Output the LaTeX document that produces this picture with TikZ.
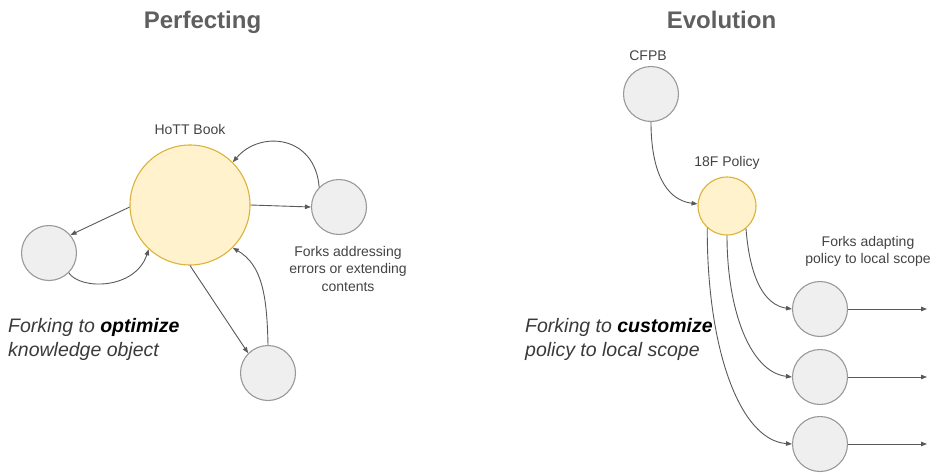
\documentclass[tikz,border=0pt]{standalone}
\usepackage{fontspec}
\setmainfont{Liberation Sans}
\usetikzlibrary{arrows.meta}

\definecolor{titlegray}{HTML}{5F5F5F}
\definecolor{labelgray}{HTML}{434343}
\definecolor{nodeedge}{HTML}{999999}
\definecolor{nodefill}{HTML}{EFEFEF}
\definecolor{hubedge}{HTML}{DBB33A}
\definecolor{hubfill}{HTML}{FFF2CC}
\definecolor{wire}{HTML}{595959}
\definecolor{notetext}{HTML}{3A3A3A}

\tikzset{
  fork/.style={circle, draw=nodeedge, fill=nodefill, line width=1.1pt,
    minimum size=55pt, inner sep=0pt},
  hub/.style={circle, draw=hubedge, fill=hubfill, line width=1.1pt, inner sep=0pt},
  wirearrow/.style={draw=wire, line width=0.9pt,
    -{Triangle[length=6pt,width=4.5pt]}},
  heading/.style={font=\bfseries\fontsize{24}{28}\selectfont, text=titlegray, inner sep=0pt},
  caption/.style={font=\fontsize{14}{17}\selectfont, text=labelgray, inner sep=0pt},
  remark/.style={font=\fontsize{14}{17.6}\selectfont, text=labelgray, inner sep=0pt,
    align=center},
  summary/.style={font=\itshape\fontsize{19.5}{23.5}\selectfont, text=notetext,
    inner sep=0pt, align=left},
}

\begin{document}
\begin{tikzpicture}[x=1pt, y=-1pt]
\useasboundingbox (0,0) rectangle (937,474);

% ---------------- Perfecting ----------------
\node[heading, anchor=base] (t1) at (202.5,28) {Perfecting};

\node[hub, minimum size=120pt] (book) at (190,205) {};
\node[caption, anchor=base] (bookl) at (190,134) {HoTT Book};

\node[fork] (fa) at (339,207) {};
\node[fork] (fb) at (49,253) {};
\node[fork] (fc) at (268,373) {};

\node[remark, anchor=north] (fal) at (348,246) {Forks addressing\\errors or extending\\contents};

\node[summary, anchor=base west] (s1) at (8,356)
  {Forking to {\color{black}\textbf{optimize}}\\knowledge object};

\draw[wirearrow] (book.east) -- (fa.west);
\draw[wirearrow] (fa.135) .. controls (315,135) and (260,130) .. (book.45);
\draw[wirearrow] (book.182) -- (fb.40);
\draw[wirearrow] (fb.-45) .. controls (80,290) and (135,290) .. (book.227);
\draw[wirearrow] (book.south) -- (fc.135);
\draw[wirearrow] (fc.north) .. controls (267,295) and (262,265) .. (book.-45);

% ---------------- Evolution ----------------
\node[heading, anchor=base] (t2) at (721.5,28) {Evolution};

\node[fork] (cf) at (651,94) {};
\node[caption, anchor=base] (cfl) at (648,60) {CFPB};

\node[hub, minimum size=58pt] (pol) at (727,206) {};
\node[caption, anchor=base] (poll) at (727,166) {18F Policy};

\node[fork] (k1) at (820,309) {};
\node[fork] (k2) at (820,377) {};
\node[fork] (k3) at (820,444) {};

\node[remark, anchor=north] (kl) at (868,236) {Forks adapting\\policy to local scope};

\node[summary, anchor=base west] (s2) at (525,356)
  {Forking to {\color{black}\textbf{customize}}\\policy to local scope};

\coordinate (o1) at (927,309);
\coordinate (o2) at (927,377);
\coordinate (o3) at (927,444);

\draw[wirearrow] (cf.south) .. controls (651,170) and (665,200) .. (pol.176);
\draw[wirearrow] (pol.-50) .. controls (750,280) and (765,305) .. (k1.west);
\draw[wirearrow] (pol.south) .. controls (727,310) and (750,372) .. (k2.west);
\draw[wirearrow] (pol.-132) .. controls (707,350) and (740,440) .. (k3.west);
\draw[wirearrow] (k1.east) -- (o1);
\draw[wirearrow] (k2.east) -- (o2);
\draw[wirearrow] (k3.east) -- (o3);
\end{tikzpicture}
\end{document}
